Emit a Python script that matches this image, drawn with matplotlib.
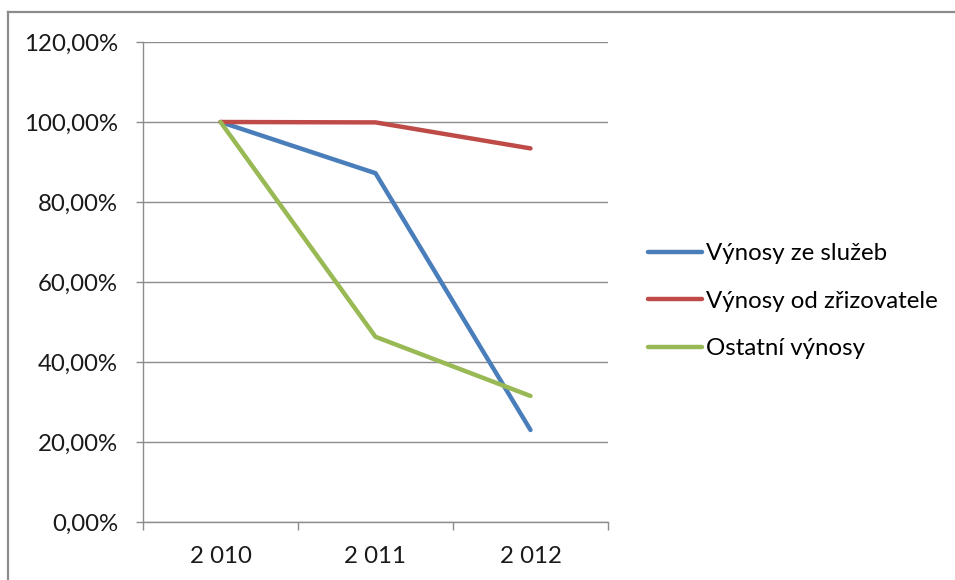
import matplotlib.pyplot as plt
from matplotlib.lines import Line2D
from matplotlib.ticker import FixedLocator, NullFormatter

plt.rcParams['font.family'] = ['Lato', 'DejaVu Sans']

# data (percent)
years = ["2 010", "2 011", "2 012"]
sluzby = [100.0, 87.2, 23.0]
zrizovatel = [100.0, 99.9, 93.4]
ostatni = [100.0, 46.3, 31.5]
series_names = ["Výnosy ze služeb", "Výnosy od zřizovatele", "Ostatní výnosy"]
colors = ["#4A7EBB", "#BE4B48", "#98B954"]
yticks = [0, 20, 40, 60, 80, 100, 120]

FS = 17.3
W, H = 955, 580
fig = plt.figure(figsize=(W / 100, H / 100), dpi=100)
ax = fig.add_axes([143 / W, (H - 522) / H, (608 - 143) / W, (522 - 42) / H])

x = list(range(len(years)))
for vals, name, col in zip([sluzby, zrizovatel, ostatni], series_names, colors):
    ax.plot(x, vals, color=col, linewidth=3.2, label=name, solid_capstyle='round', zorder=3)

ax.set_xlim(-0.5, len(years) - 0.5)
ax.set_ylim(0, 120)

# y axis
ax.set_yticks(yticks)
ax.set_yticklabels([f"{v:.2f}".replace(".", ",") + "%" for v in yticks], fontsize=FS)
ax.yaxis.grid(True, color="#8c8c8c", linewidth=1)
ax.set_axisbelow(True)

# x axis: ticks on category boundaries, labels centred
ax.xaxis.set_major_locator(FixedLocator([i - 0.5 for i in range(len(years) + 1)]))
ax.xaxis.set_major_formatter(NullFormatter())
ax.xaxis.set_minor_locator(FixedLocator(x))
ax.set_xticklabels(years, minor=True, fontsize=FS)
ax.tick_params(axis='x', which='minor', length=0, pad=17)
ax.tick_params(axis='x', which='major', length=6, width=1, color="#8c8c8c", direction='out')
ax.tick_params(axis='y', length=5, width=1, color="#8c8c8c", direction='out', pad=13)
ax.tick_params(which='both', labelcolor="#1a1a1a")

for s in ['top', 'right']:
    ax.spines[s].set_visible(False)
for s in ['left', 'bottom']:
    ax.spines[s].set_color("#8c8c8c")
    ax.spines[s].set_linewidth(1)

fig.legend(loc='center left', bbox_to_anchor=(648 / W, 1 - 301 / H), frameon=False,
           fontsize=FS, handlelength=2.25, handletextpad=0.18, labelspacing=1.1,
           borderpad=0, borderaxespad=0)

# outer chart frame (only left and top edges are visible)
fx, fy = 8 / W, 1 - 12 / H
fig.add_artist(Line2D([fx, fx], [0, fy], transform=fig.transFigure, color="#8c8c8c", linewidth=1.6))
fig.add_artist(Line2D([fx, 1], [fy, fy], transform=fig.transFigure, color="#8c8c8c", linewidth=1.6))

fig.savefig("out.png", dpi=100)
